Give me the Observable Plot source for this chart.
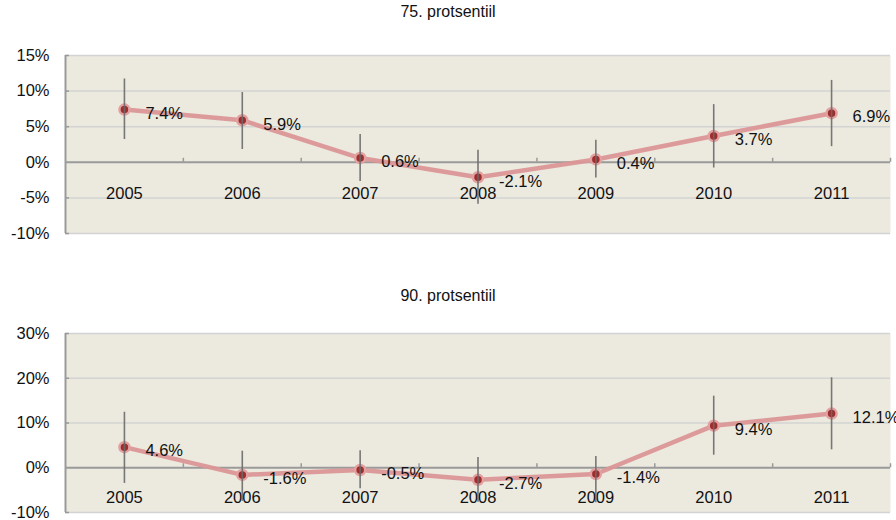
<!DOCTYPE html>
<html>
<head>
<meta charset="utf-8">
<script src="https://cdn.jsdelivr.net/npm/d3@7"></script>
<script src="https://cdn.jsdelivr.net/npm/@observablehq/plot@0.6"></script>
<style>
  body { margin: 0; background: #fff; font-family: "Liberation Sans", Arial, Helvetica, sans-serif; }
  #wrap { position: relative; width: 896px; height: 520px; overflow: hidden; }
  .title { position: absolute; left: 0; width: 896px; text-align: center; font-size: 16px; color: #111; }
  .panel { position: absolute; left: 0; }
</style>
</head>
<body>
<div id="wrap">
  <div class="title" id="t1" style="top:3px"></div>
  <div class="panel" id="p1" style="top:30px"></div>
  <div class="title" id="t2" style="top:287px"></div>
  <div class="panel" id="p2" style="top:310px"></div>
</div>
<script>
const years = [2005, 2006, 2007, 2008, 2009, 2010, 2011];

const title75 = "75. protsentiil";
const p75   = [7.4, 5.9, 0.6, -2.1, 0.4, 3.7, 6.9];
const p75Lo = [3.2, 1.8, -2.7, -5.9, -2.2, -0.8, 2.2];
const p75Hi = [11.7, 9.8, 3.9, 1.7, 3.1, 8.1, 11.5];
const ticks75 = [-10, -5, 0, 5, 10, 15];

const title90 = "90. protsentiil";
const p90   = [4.6, -1.6, -0.5, -2.7, -1.4, 9.4, 12.1];
const p90Lo = [-3.5, -7.5, -4.7, -7.7, -7.8, 2.8, 4.0];
const p90Hi = [12.4, 3.7, 3.8, 2.3, 2.5, 16.0, 20.1];
const ticks90 = [-10, 0, 10, 20, 30];

function panel(vals, lo, hi, ticks, cfg) {
  const rows = years.map((y, i) => ({year: y, v: vals[i], lo: lo[i], hi: hi[i]}));
  const xDom = [years[0] - 0.5, years[years.length - 1] + 0.5];
  const yDom = [ticks[0], ticks[ticks.length - 1]];
  const marginLeft = 65, marginRight = 6;
  const plotH = cfg.height - cfg.marginTop - cfg.marginBottom;
  const plotW = 896 - marginLeft - marginRight;
  const tickLenY = (yDom[1] - yDom[0]) / plotH * 4;
  const tickLenX = (xDom[1] - xDom[0]) / plotW * 4;
  const boundaries = years.map(y => y + 0.5);
  const grid = ticks.filter(t => t !== 0);
  return Plot.plot({
    width: 896,
    height: cfg.height,
    marginLeft, marginRight,
    marginTop: cfg.marginTop,
    marginBottom: cfg.marginBottom,
    style: {fontFamily: '"Liberation Sans", Arial, Helvetica, sans-serif', fontSize: "16.5px", color: "#111", background: "transparent", overflow: "visible"},
    x: {domain: xDom, axis: null},
    y: {domain: yDom, axis: null},
    marks: [
      Plot.frame({fill: "#ece9df", stroke: "none"}),
      Plot.ruleY(grid, {stroke: "#d3d3d3", strokeWidth: 1.5}),
      Plot.ruleY(grid, {x1: xDom[0], x2: xDom[0] + tickLenX, stroke: "#999", strokeWidth: 1.5}),
      Plot.ruleY([0], {stroke: "#9a9a9a", strokeWidth: 2}),
      Plot.ruleX(boundaries, {y1: 0, y2: tickLenY, stroke: "#9a9a9a", strokeWidth: 1.5}),
      Plot.ruleX([xDom[0]], {stroke: "#9a9a9a", strokeWidth: 2}),
      Plot.axisY(ticks, {tickSize: 0, tickPadding: 16, tickFormat: d => d + "%", fontSize: 16.5, fill: "#111"}),
      Plot.text(rows, {x: "year", y: () => 0, dy: cfg.yearDy, text: d => String(d.year), fontSize: 16.5, fill: "#111"}),
      Plot.line(rows, {x: "year", y: "v", stroke: "#dc9696", strokeWidth: 4.5, strokeOpacity: 0.95}),
      Plot.dot(rows, {x: "year", y: "v", r: 5, fill: "#9e2e2e", stroke: "#e3a0a0", strokeWidth: 2.5}),
      Plot.ruleX(rows, {x: "year", y1: "lo", y2: "hi", stroke: "#6a6a6a", strokeWidth: 1.6, strokeOpacity: 0.9}),
      Plot.text(rows, {x: "year", y: "v", text: d => d.v.toFixed(1) + "%", textAnchor: "start", dx: 21, dy: 4, fontSize: 16.5, fill: "#111"})
    ]
  });
}

document.getElementById("t1").textContent = title75;
document.getElementById("t2").textContent = title90;
document.getElementById("p1").appendChild(panel(p75, p75Lo, p75Hi, ticks75, {height: 213, marginTop: 25, marginBottom: 10, yearDy: 31}));
document.getElementById("p2").appendChild(panel(p90, p90Lo, p90Hi, ticks90, {height: 210, marginTop: 23, marginBottom: 8, yearDy: 30}));
</script>
</body>
</html>
